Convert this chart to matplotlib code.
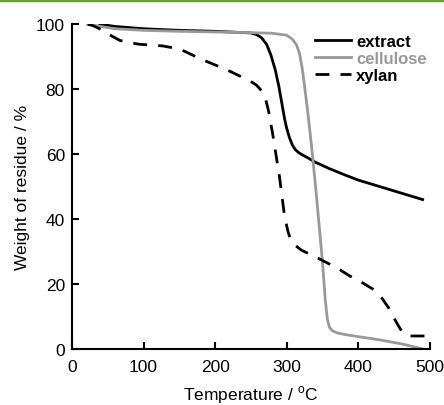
import numpy as np
import matplotlib
matplotlib.use('Agg')
import matplotlib.pyplot as plt
from matplotlib.lines import Line2D

plt.rcParams['font.family'] = ['Liberation Sans', 'DejaVu Sans']

# ── Data (temperature °C, weight %) ────────────────────────────────────────
extract_T = [39, 60, 100, 150, 200, 250, 258, 265, 272, 278, 284, 289, 293, 297, 300,
             304, 308, 312, 316, 320, 330, 340, 360, 380, 400, 430, 460, 490]
extract_W = [100, 99.3, 98.6, 98.1, 97.8, 97.3, 96.8, 95.8, 93.8, 90.5, 86, 81, 76, 71, 68,
             65, 62.8, 61.4, 60.6, 60, 58.8, 57.5, 55.5, 53.7, 52, 50, 48, 46]

cellulose_T = [22, 40, 60, 100, 150, 200, 250, 280, 300, 308, 314, 318, 322, 325, 330, 335,
               340, 345, 350, 354, 357, 360, 364, 370, 380, 400, 430, 460, 483, 490]
cellulose_W = [100, 99.3, 98.6, 98.1, 97.8, 97.6, 97.4, 97.2, 96.6, 95.4, 93.5, 91, 86, 81, 72, 62,
               51, 39, 27, 15, 9, 6.6, 5.6, 5, 4.5, 3.8, 2.8, 1.6, 0.4, 0]

xylan_T = [22, 30, 44, 56, 67, 80, 95, 127, 151, 183, 216, 249, 258, 265, 270, 275, 281,
           290, 297, 302, 306, 310, 320, 346, 370, 388, 405, 420, 432, 442, 450, 456, 461,
           466, 472, 485, 500]
xylan_W = [100, 99.5, 98, 96.3, 95, 94.3, 93.8, 93.3, 92.3, 89, 86, 82.5, 81.2, 79.5, 77.5, 73, 65.5,
           53, 41, 36, 33.5, 32.3, 30.5, 27.7, 25, 22.5, 20.5, 18.5, 16, 12.8, 9.5, 7.2, 5.4,
           4.4, 4, 4, 4]

fig = plt.figure(figsize=(4.44, 4.06), dpi=100)
ax = fig.add_axes([0.162, 0.138, 0.806, 0.800])

ax.plot(extract_T, extract_W, color='black', lw=2, label='extract')
ax.plot(cellulose_T, cellulose_W, color='#999999', lw=2, label='cellulose')
ax.plot(xylan_T, xylan_W, color='black', lw=2, dashes=(5, 4), label='xylan')

ax.set_xlim(0, 500)
ax.set_ylim(0, 100)
ax.set_xticks([0, 100, 200, 300, 400, 500])
ax.set_yticks([0, 20, 40, 60, 80, 100])
for s in ['top', 'right']:
    ax.spines[s].set_visible(False)
for s in ['left', 'bottom']:
    ax.spines[s].set_linewidth(1.5)
ax.tick_params(direction='in', length=5, width=1.5, labelsize=12.5)
ax.tick_params(axis='x', pad=7)
ax.tick_params(axis='y', pad=5)

ax.set_xlabel('Temperature / $^{\\mathregular{o}}$C', fontsize=12.5, labelpad=7)
ax.set_ylabel('Weight of residue / %', fontsize=12.5, labelpad=4)

leg = ax.legend(loc='upper right', bbox_to_anchor=(1.02, 1.0), frameon=False,
                prop={'weight': 'bold', 'size': 12}, handlelength=2.2,
                handletextpad=0.3, labelspacing=0.1, borderaxespad=0.2)
leg.get_texts()[1].set_color('#999999')

# green rule across the top edge
fig.add_artist(Line2D([0, 1], [0.997, 0.997], transform=fig.transFigure,
                      color='#6a9f3a', lw=2.5))

fig.savefig('out.png', dpi=100)
